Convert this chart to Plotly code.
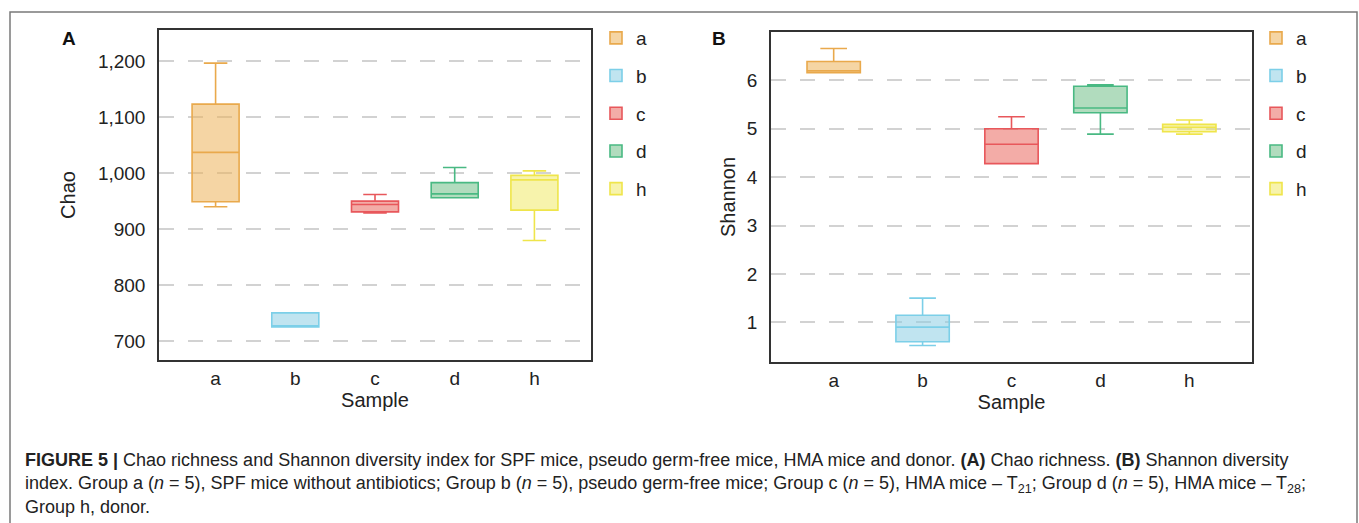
import plotly.graph_objects as go

W, H = 1359, 523

groups = ["a", "b", "c", "d", "h"]
line_colors = ["#E9A94C", "#7CCFE8", "#E8575B", "#49B983", "#EFE54B"]
fill_colors = ["rgba(236,178,90,0.55)", "rgba(140,206,228,0.55)", "rgba(232,90,80,0.5)",
               "rgba(100,185,125,0.5)", "rgba(240,232,90,0.5)"]

# Panel A: Chao richness
chao_low = [940, 726, 929, 956, 880]
chao_q1 = [949, 726, 931, 956, 934]
chao_med = [1037, 728, 944, 963, 988]
chao_q3 = [1123, 751, 950, 983, 996]
chao_up = [1196, 751, 962, 1010, 1004]

# Panel B: Shannon diversity
sh_low = [6.16, 0.52, 4.28, 4.89, 4.89]
sh_q1 = [6.16, 0.60, 4.28, 5.33, 4.94]
sh_med = [6.20, 0.90, 4.68, 5.43, 5.03]
sh_q3 = [6.39, 1.145, 5.00, 5.88, 5.09]
sh_up = [6.66, 1.50, 5.25, 5.91, 5.18]

chao_ticks = [700, 800, 900, 1000, 1100, 1200]
sh_ticks = [1, 2, 3, 4, 5, 6]

FONT = "Liberation Sans, Arial, Helvetica, sans-serif"
CAP_FONT = "Liberation Sans, Arial, Helvetica, sans-serif"
TXT = "#222222"

def px(x):
    return x / W

def py(y):
    return 1 - y / H

fig = go.Figure()

for i, g in enumerate(groups):
    fig.add_trace(go.Box(
        x=[g], q1=[chao_q1[i]], median=[chao_med[i]], q3=[chao_q3[i]],
        lowerfence=[chao_low[i]], upperfence=[chao_up[i]],
        name=g, legendgroup="A" + g, legend="legend",
        line=dict(color=line_colors[i], width=1.6), fillcolor=fill_colors[i],
        width=0.59, whiskerwidth=0.5, boxpoints=False,
        xaxis="x", yaxis="y", hoverinfo="y",
    ))
for i, g in enumerate(groups):
    fig.add_trace(go.Box(
        x=[g], q1=[sh_q1[i]], median=[sh_med[i]], q3=[sh_q3[i]],
        lowerfence=[sh_low[i]], upperfence=[sh_up[i]],
        name=g, legendgroup="B" + g, legend="legend2",
        line=dict(color=line_colors[i], width=1.6), fillcolor=fill_colors[i],
        width=0.6, whiskerwidth=0.5, boxpoints=False,
        xaxis="x2", yaxis="y2", hoverinfo="y",
    ))

axis_common = dict(
    showline=True, mirror=True, linecolor="#333333", linewidth=1.5,
    ticks="", tickfont=dict(family=FONT, size=19, color=TXT),
    zeroline=False,
)
title_font = dict(family=FONT, size=20, color=TXT)

fig.update_layout(
    width=W, height=H,
    margin=dict(l=0, r=0, t=0, b=0),
    paper_bgcolor="white", plot_bgcolor="white",
    font=dict(family=FONT, color=TXT),
    boxmode="overlay",
    xaxis=dict(domain=[px(159), px(591)], anchor="y", type="category",
               categoryorder="array", categoryarray=groups,
               range=[-0.71, 4.71], showgrid=False, ticklabelstandoff=0,
               title=dict(text="Sample", font=title_font, standoff=0),
               **axis_common),
    yaxis=dict(domain=[py(360), py(30)], anchor="x", range=[667, 1255],
               tickvals=chao_ticks, tickformat=",", showgrid=True,
               gridcolor="#d2d2d2", gridwidth=1.5, griddash="15px,14px",
               ticklabelstandoff=8,
               title=dict(text="Chao", font=title_font, standoff=17),
               **axis_common),
    xaxis2=dict(domain=[px(771), px(1252)], anchor="y2", type="category",
                categoryorder="array", categoryarray=groups,
                range=[-0.705, 4.705], showgrid=False, ticklabelstandoff=0,
                title=dict(text="Sample", font=title_font, standoff=0),
                **axis_common),
    yaxis2=dict(domain=[py(362), py(32)], anchor="x2", range=[0.18, 7.0],
                tickvals=sh_ticks, showgrid=True,
                gridcolor="#d2d2d2", gridwidth=1.5, griddash="15px,14px",
                ticklabelstandoff=8,
                title=dict(text="Shannon", font=title_font, standoff=6),
                **axis_common),
    legend=dict(x=px(596), y=py(19), xanchor="left", yanchor="top",
                font=dict(family=FONT, size=19, color=TXT),
                tracegroupgap=10, bgcolor="rgba(0,0,0,0)"),
    legend2=dict(x=px(1256), y=py(19), xanchor="left", yanchor="top",
                 font=dict(family=FONT, size=19, color=TXT),
                 tracegroupgap=10, bgcolor="rgba(0,0,0,0)"),
    showlegend=True,
)

# Outer frame
fig.add_shape(type="rect", xref="paper", yref="paper",
              x0=px(10), x1=px(1357), y0=-0.05, y1=py(12),
              line=dict(color="#7a7a7a", width=1.5), fillcolor="rgba(0,0,0,0)", layer="below")

# Panel labels
fig.add_annotation(text="<b>A</b>", xref="paper", yref="paper", x=px(69), y=py(38),
                   xanchor="center", yanchor="middle",
                   showarrow=False, font=dict(family=FONT, size=19, color="#111111"))
fig.add_annotation(text="<b>B</b>", xref="paper", yref="paper", x=px(719), y=py(38),
                   xanchor="center", yanchor="middle",
                   showarrow=False, font=dict(family=FONT, size=19, color="#111111"))

caption = [
    "<b>FIGURE 5 |</b> Chao richness and Shannon diversity index for SPF mice, pseudo germ-free mice, HMA mice and donor. "
    "<b>(A)</b> Chao richness. <b>(B)</b> Shannon diversity",
    "index. Group a (<i>n</i> = 5), SPF mice without antibiotics; Group b (<i>n</i> = 5), pseudo germ-free mice; "
    "Group c (<i>n</i> = 5), HMA mice – T<sub>21</sub>; Group d (<i>n</i> = 5), HMA mice – T<sub>28</sub>;",
    "Group h, donor.",
]
for line, yy in zip(caption, [460, 484, 507]):
    fig.add_annotation(text=line, xref="paper", yref="paper", x=px(23), y=py(yy),
                       xanchor="left", yanchor="middle", showarrow=False, align="left",
                       font=dict(family=CAP_FONT, size=18, color=TXT))

fig.write_html("out.html", config={"displayModeBar": False},
               post_script="document.body.style.margin='0';document.body.style.padding='0';")
